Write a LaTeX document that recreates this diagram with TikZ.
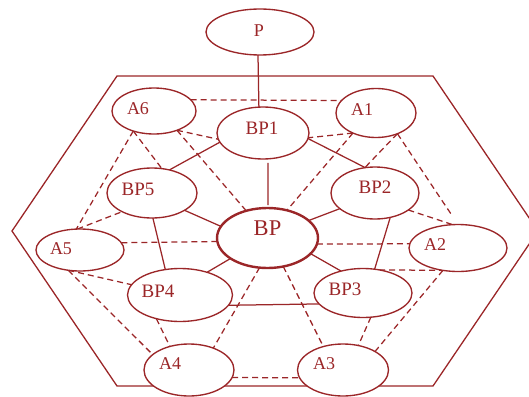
\documentclass[tikz,border=0pt]{standalone}
\usepackage{fontspec}
\setmainfont{Liberation Serif}
\usetikzlibrary{calc,shapes.geometric,backgrounds}
\definecolor{dred}{RGB}{155,38,40}
\begin{document}
\begin{tikzpicture}[x=1pt,y=-1pt,
  ell/.style={draw=dred, ellipse, fill=white, line width=1.35pt, inner sep=0pt, outer sep=0pt},
  lblA/.style={text=dred, inner sep=0pt, font=\fontsize{18}{20}\selectfont},
  lblB/.style={text=dred, inner sep=0pt, font=\fontsize{19}{21}\selectfont},
  lblC/.style={text=dred, inner sep=0pt, font=\fontsize{22.5}{25}\selectfont},
  sol/.style={draw=dred, line width=1.25pt},
  dsh/.style={draw=dred, line width=1.25pt, dash pattern=on 6pt off 4pt},
  hexa/.style={draw=dred, line width=1.3pt, line join=miter}]
\path[use as bounding box] (0,0) rectangle (529,396);
\clip (0,0) rectangle (529,396);
% ellipses
\node[ell, minimum width=108pt, minimum height=46pt] (P) at (260,32) {};
\node[ell, minimum width=84pt, minimum height=46pt] (A6) at (154,111) {};
\node[ell, minimum width=92pt, minimum height=52pt] (BP1) at (263,133) {};
\node[ell, minimum width=80pt, minimum height=49pt] (A1) at (376,113) {};
\node[ell, minimum width=90pt, minimum height=50pt] (BP5) at (152,193) {};
\node[ell, minimum width=88pt, minimum height=52pt] (BP2) at (375,193) {};
\node[ell, line width=2.4pt, minimum width=101pt, minimum height=60pt] (BP) at (267.5,238) {};
\node[ell, minimum width=88pt, minimum height=42pt] (A5) at (80,250) {};
\node[ell, minimum width=98pt, minimum height=47pt] (A2) at (458,248) {};
\node[ell, minimum width=105pt, minimum height=53pt] (BP4) at (180,295) {};
\node[ell, minimum width=98pt, minimum height=49pt] (BP3) at (363,293) {};
\node[ell, minimum width=90pt, minimum height=52pt] (A4) at (189,370) {};
\node[ell, minimum width=91pt, minimum height=52pt] (A3) at (343,370) {};
% labels
\node[lblA] (tP) at ($(P)+(-1,-1)$) {P};
\node[lblA] (tA6) at ($(A6)+(-16,-2)$) {A6};
\node[lblB] (tBP1) at ($(BP1)+(-1,-5)$) {BP1};
\node[lblA] (tA1) at ($(A1)+(-14,-3)$) {A1};
\node[lblB] (tBP5) at ($(BP5)+(-14,-4)$) {BP5};
\node[lblB] (tBP2) at ($(BP2)+(0,-6)$) {BP2};
\node[lblC] (tBP) at ($(BP)+(0,-10)$) {BP};
\node[lblA] (tA5) at ($(A5)+(-19,-1)$) {A5};
\node[lblA] (tA2) at ($(A2)+(-23,-3)$) {A2};
\node[lblB] (tBP4) at ($(BP4)+(-22,-4)$) {BP4};
\node[lblB] (tBP3) at ($(BP3)+(-18,-4)$) {BP3};
\node[lblA] (tA4) at ($(A4)+(-19,-6)$) {A4};
\node[lblA] (tA3) at ($(A3)+(-19,-6)$) {A3};
\begin{scope}[on background layer]
% hexagon
\draw[hexa] (117,76) -- (433,76) -- (538,231) -- (433,386) -- (117,386) -- (12,231) -- cycle;
% solid connectors
\draw[sol] (P.-95) -- (BP1.99);
\draw[sol] (BP1.192) -- (BP5.53);
\draw[sol, shorten <=4pt, shorten >=3pt] (BP1.-79) -- (BP.89);
\draw[sol] (BP1.-7) -- (BP2.111);
\draw[sol] (BP2.204) -- (BP.23);
\draw[sol] (BP5.-28) -- (BP.166);
\draw[sol] (BP5.-88) -- (BP4.120);
\draw[sol] (BP.209) -- (BP4.40);
\draw[sol] (BP.-20) -- (BP3.135);
\draw[sol] (BP2.-58) -- (BP3.64);
\draw[sol] (BP4.-12) -- (BP3.194);
% dashed connectors
\draw[dsh] (A6.17) -- (A1.160);
\draw[dsh] (A6.-40) -- (BP1.188);
\draw[dsh] (A6.-40) -- (BP.128);
\draw[dsh] (A6.224) -- (A5.100);
\draw[dsh] (A6.224) -- (BP5.68);
\draw[dsh] (A5.97) -- (BP5.212);
\draw[dsh] (A1.221) -- (BP1.-6);
\draw[dsh] (A1.221) -- (BP.55);
\draw[dsh] (A1.-44) -- (BP2.112);
\draw[dsh, shorten >=10pt] (A1.-44) -- (A2.90);
\draw[dsh] (BP2.-27) -- (A2.103);
\draw[dsh] (A5.10) -- (BP.184);
\draw[dsh] (BP.-7) -- (A2.175);
\draw[dsh] (A5.240) -- (BP4.168);
\draw[dsh] (A5.240) -- (A4.157);
\draw[dsh] (BP4.225) -- (A4.129);
\draw[dsh] (BP.255) -- (A4.42);
\draw[dsh] (BP.-61) -- (A3.130);
\draw[dsh] (BP3.-72) -- (A3.58);
\draw[dsh] (BP3.55) -- (A2.236);
\draw[dsh] (A2.236) -- (A3.30);
\draw[dsh] (A4.-10) -- (A3.190);
\end{scope}
\end{tikzpicture}
\end{document}
